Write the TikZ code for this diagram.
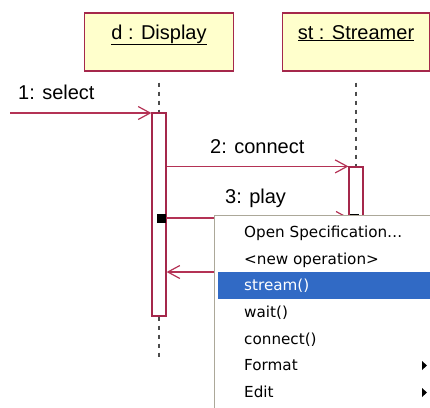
\documentclass[tikz,border=0pt]{standalone}
\usepackage{fontspec}
\setmainfont{Liberation Sans}
\newfontfamily\menufont{DejaVu Sans}
\usetikzlibrary{positioning,arrows.meta,calc}
\definecolor{objline}{RGB}{165,40,75}
\definecolor{msgline}{RGB}{180,50,85}
\definecolor{objfill}{RGB}{255,255,204}
\definecolor{menuhl}{RGB}{49,106,197}
\definecolor{menuborder}{RGB}{172,168,153}

\begin{document}
\begin{tikzpicture}[
  x=1pt, y=-1pt,
  font=\fontsize{20}{24}\selectfont,
  >={Straight Barb[length=12pt,width=13pt,line width=1.2pt]},
  obj/.style={rectangle, draw=objline, fill=objfill, line width=1.2pt,
    minimum width=149pt, inner xsep=0pt, inner ysep=0pt,
    text height=26pt, text depth=32pt},
  act/.style={rectangle, draw=objline, fill=white, line width=1.2pt,
    minimum width=14pt, inner sep=0pt},
  life/.style={draw=black!70, line width=1.1pt, dash pattern=on 4pt off 5pt},
  msg/.style={->, draw=msgline, line width=1.2pt},
  lbl/.style={inner sep=0pt, anchor=base west},
  handle/.style={rectangle, fill=black, minimum size=9pt, inner sep=0pt},
  menu/.style={rectangle, draw=menuborder, fill=white, line width=1.3pt,
    minimum width=222pt, minimum height=198pt, inner sep=0pt},
  item/.style={font=\menufont\fontsize{15.2}{17}\selectfont, inner sep=0pt,
    anchor=base west},
  hilite/.style={rectangle, fill=menuhl, minimum width=214pt,
    minimum height=27pt, inner sep=0pt, anchor=north west}
]
\clip (0,0) rectangle (430,407);
% Objects
\node[obj] (disp) at (159,42)    {\underline{d : Display}};
\node[obj, minimum width=147.5pt] (strm) at (356,42) {\underline{st : Streamer}};
% Activations
\node[act, minimum height=203pt] (dact) at (159,214.5) {};
\node[act, minimum height=123pt] (sact) at (356,228.5) {};
% Lifelines
\draw[life] ([yshift=-11pt]disp.south) -- (dact.north);
\draw[life] (dact.south) -- ++(0,44);
\draw[life] ([yshift=-11pt]strm.south) -- (sact.north);
% 1: select
\coordinate (src) at (10,113);
\draw[msg] (src) -- (src -| dact.west);
\node[lbl] (m1) at (18,99) {1: select};
% 2: connect
\draw[msg] (dact.east |- sact.north) -- (sact.north west);
\node[lbl] (m2) at (210,153) {2: connect};
% 3: play
\node[handle] (hnd) at (161.5,218) {};
\node[handle] (hnd2) at (354,218) {};
\draw[msg] (hnd.east) -- (hnd2.west);
\node[lbl] (m3) at (225,203) {3: play};
% return
\coordinate (ret) at (sact.west |- 0,272);
\draw[msg] (ret) -- (ret -| dact.east);
% Context menu
\node[menu, anchor=north west] (menu) at (214,215) {};
\node[hilite] (sel) at (218,272) {};
\node[item] (i1) at (244,237.5) {Open Specification…};
\node[item] (i2) at (244,264)   {<new operation>};
\node[item, text=white] (i3) at (244,290.5) {stream()};
\node[item] (i4) at (244,317.5) {wait()};
\node[item] (i5) at (244,344)   {connect()};
\node[item] (i6) at (244,370.5) {Format};
\node[item] (i7) at (244,397.5) {Edit};
% submenu marks
\fill (422,361) -- (427,365.5) -- (422,370) -- cycle;
\fill (422,388) -- (427,392.5) -- (422,397) -- cycle;
\end{tikzpicture}
\end{document}
